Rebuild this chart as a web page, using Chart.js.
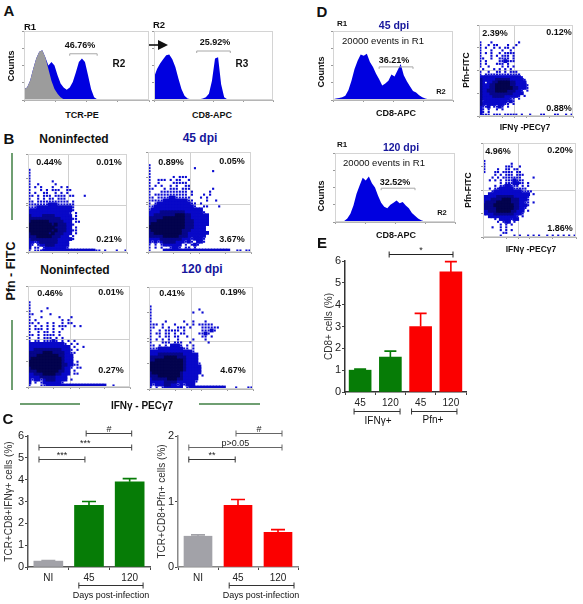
<!DOCTYPE html>
<html>
<head>
<meta charset="utf-8">
<title>Panels</title>
<script src="https://cdn.jsdelivr.net/npm/chart.js@4"></script>
<style>
  html, body { margin: 0; padding: 0; background: #fff; }
  #page { position: relative; width: 583px; height: 604px; overflow: hidden; font-family: "Liberation Sans", Arial, sans-serif; }
  canvas { position: absolute; }
  canvas.soft { filter: blur(0.5px); }
  .txt { position: absolute; white-space: nowrap; color: #111; transform: translate(-50%, -50%); line-height: 1; }
  .b { font-weight: bold; }
  .dpi { color: #16169c; }
  .rot { transform: translate(-50%, -50%) rotate(-90deg); }
  .vert, .hori { position: absolute; background: #6f9f72; }
</style>
</head>
<body>
<div id="page"></div>
<script>
//----------------------------------data

// panel A, histograms (percent of the box height)
const histTcrGrey = [16,18,28,45,60,70,72,62,45,28,16,9,4,1,0,0,0,0,0,0,0,0,0,0,0,0,0,0,0,0,0,0,0,0,0,0,0,0,0,0,0,0];
const histTcrBlue = [16,18,28,45,60,70,72,62,50,55,50,36,24,18,15,18,26,40,55,60,55,36,16,4,1,0.5,0.4,0.3,0.3,0.3,0.3,0.2,0.2,0.2,0.2,0.2,0.2,0.2,0.2,0.2,0.2,0.2];
const histCd8 = [33,45,53,59,65,66,59,48,31,16,6,2,1,1,1,1,2,4,9,28,60,62,23,4,1,0.6,0.5,0.5,0.4,0.4,0.4,0.4,0.3,0.3,0.3,0.3,0.3,0.3,0.3,0.3];

// panel D, histograms
const histD45 = [1,2,3,4,6,14,28,45,57,66,64,67,55,48,38,30,21,24,28,37,34,43,52,36,27,20,13,11,7,4,2,1,0.5,0.3,0.3,0.2,0.2,0.2,0.2,0.2];
const histD120 = [0.5,1,1,1.5,5,12,24,41,53,64,60,66,56,50,38,28,22,20,25,28,31,27,29,24,20,13,9,5,2.5,1,0.5,0.3,0.3,0.3,0.2,0.2,0.2,0.2,0.2,0.2];

// panel B and D, dot plots read off on a 34 x 34 grid, top row first
// . nothing, + single events, o blue, x dark blue, # darkest
const dotsB1 = ["","","","","","+","+","+","+","+.......+","+..+.....+","+.+.+...+..+.+","+...+.+.+++..++","+.+..++..+.+.+","++.+.+++.++++.++...+","+..+.+.++.+++","++.+++++++++++.+","+++++++ooo++++++","+++oooooooooooo+","ooooooooooooooo+","oooooooooooooo+.+","xooooxxxxoooooo.+","xxxxxxxxxxxoooo++","x######xxxxxooo.++","########x#xxxoo+","#########xxxxoo.+","########x#xxxoo++","x######x#xxxooo.+","xxx#####xxxooo.+","oxxxxxxxxxooooo+","oo+oxxxxxxoooo","o+.+ooxxxooooo","o.++.+ooooooo+","+.+++oooooooooooooooooo++.+...+..++"];
const dotsB2 = ["","","","","+","+..............+","+....................+","+","+.......+.+++","+..+++.+.++..+","+..+....+++++","+.+.+..+.+..++","++...+.+++.+++.......+","+...+++++++++.+.....+","+.+++++++++++.+...+.+","++.++++oo+++++...+.+","+++++oooooooo++....+..+","+.+ooooooooooo++.+","++ooooooooooooo+..++...+","+ooooooooooooooooo","ooooxxxxxxxxoooooo+","ooxxxxxxx###xxoooooo","xxxxx#######xxoooooo","xxx#########xxxooooo","x###########xxxooooo","############xxxoooo","x##########xxxooooo","xx#########xxooooooo","xxxxx#####xxxoooooo","ooooxxxxxxxooo+ooo+","o+o+oxxxxooo+o+.oo+","+.+.+oooooo.+.+o+","+.+.+..+oo+.++.+","+....oooooooooooooooooooooo..++.++.+"];
const dotsB3 = ["","","","","","+","+","+.....+","+...+","++.....+","+...+.....+...+","+.+........+.+","++.+..+.+..+.++","+.+.+.+.+.+++..+.+","+.+++.+.+..+","+..+.++.+.+","++.+.++++.+","+..+.+++.+.+","+.++.+++o+.+.+.+","oooooooooooo+.+.+","oooooooooooooo.+..+","ooxxxxxxxxxooo+.+","xxxxx###xxxxoo++","xxx#######xxooo","x##########xooo","###########xooo.+","###########xxoo++","x##########xoo+.++","xxx#######xxoo.+","ooxxx####xxooo.++","ooooxxxxxoooo","o+oo+oxxxoooo.+","o.+.+oooooo+","+...++oooooooooooooooooooo..+.....+"];
const dotsB4 = ["","","","","","","+","+...............+","+.............+..+","+","+","+....+.....+..+...+","+++.+...+...+.+.+++++","++..+.+..+++.+...++++++","+..+.+++++.+.....+++o+","+.++.++.+.++....++o+","+..+.++.++..+....++.+","+.+.+.+..+....+...+","+...+++.+++..+.....+","++.+.+.ooo+.+.+","+++oooooooo++.+","oooooooooooooo+","oooxxxxxxxxooooo","xxxxx####xxxoooo","xx#########xoooo","###########xoooo+","###########xooooo","###########xooooo","x#########xoooooo","xxx#######xooooo.+","oxxxxx###xxooooo","oooooxxxxoooooo+","o+oooxxoo+o+ooo","+.+.+oooooo.+oooooooooooo...+...++"];
const dotsD45 = ["","","","","","","+...+.........+","+..+.++...+..+","+.+..+.+.++.+","+...+...+..+","+.+.+..+.++++","+...+.+.+++.+","++..+..++++.+","+.+....++o+++","+.+...+++.+","+..+....+.+.+",".+...+.+.+.+","+..+..++.+.+++","+.+++++++++++++","ooooooooooooooo+","xoooooxxxxxooooo+","xo.ooxx####xxoooo","xoooxx#####xxoooo+","xoooxx######xxooo+","xooxxx####xxxoo+.+","xoooxxxxxxxxoooo","xooooxxxxooooo+.+","xoooooooooo++.+","x+oooooooo+o+","xo+ooo+oo++.+","o++o.++o+.+","o+.+..+.+","o+.+","o+++.+++.+++++.+..+...++...++..+.++"];
const dotsD120 = ["","","","","","","+","+.........+","+.......+++..+","+....+..++.++","+...++.++++.++","....+.+.+++.+++","...+.+.+++++++....+","..+.+.+.+++o+++","......+.+++oo++.+","....+.++oo+++.+.+","..+.++ooooo+++++","...+oooooooooo++++","..ooooooooooooooo.+","oooooxxxxxxooooo+","oooxxxx###xxxooo+","oxxxx#####xxxoo++.+","xxxx#######xxooo+","xxxxx######xxoo+","ooxxx#####xxooo.+","ooooxxxxxxxooo+","..oooooooooo+.+","....+.oooo+oo",".....+.+oo.+","......+.+.+","...+..+.+","......+.+.+",".......++","......+....+.+..+.+.+..+.+.+.+.+.+"];

// panel C
const joursLabels = ["NI", "45", "120"];
const ifnValues = [0.27, 2.82, 3.9];
const ifnErrors = [0.02, 0.18, 0.15];
const pfnValues = [0.47, 0.94, 0.53];
const pfnErrors = [0.02, 0.09, 0.04];

// panel E
const cd8Labels = ["45", "120", "45", "120"];
const cd8Values = [1, 1.6, 3, 5.5];
const cd8Errors = [0.05, 0.27, 0.6, 0.47];

const GREEN = '#067c06';
const RED = '#fb0000';
const GREY = '#a2a2a8';

//----------------------------------helpers

Chart.defaults.font.family = '"Liberation Sans", Arial, sans-serif';
Chart.defaults.animation = false;

const page = document.getElementById('page');

function addCanvas(left, top, width, height, cls) {
  const c = document.createElement('canvas');
  c.width = width;
  c.height = height;
  c.style.left = left + 'px';
  c.style.top = top + 'px';
  c.style.width = width + 'px';
  c.style.height = height + 'px';
  if (cls) c.className = cls;
  page.appendChild(c);
  return c;
}

function addText(text, x, y, size, cls) {
  const d = document.createElement('div');
  d.className = 'txt ' + (cls || '');
  d.textContent = text;
  d.style.left = x + 'px';
  d.style.top = y + 'px';
  d.style.fontSize = size + 'px';
  page.appendChild(d);
}

function addLine(cls, left, top, size) {
  const d = document.createElement('div');
  d.className = cls;
  d.style.left = left + 'px';
  d.style.top = top + 'px';
  if (cls === 'vert') { d.style.width = '1.5px'; d.style.height = size + 'px'; }
  else { d.style.height = '1.5px'; d.style.width = size + 'px'; }
  page.appendChild(d);
}

// thin light frame around the flow plots
const framePlugin = {
  id: 'frame',
  afterDraw(chart) {
    const a = chart.chartArea, ctx = chart.ctx;
    ctx.save();
    ctx.strokeStyle = '#d4d4d4';
    ctx.lineWidth = 1;
    ctx.strokeRect(a.left + 0.5, a.top + 0.5, a.width - 1, a.height - 1);
    ctx.restore();
  }
};

// small ticks of the flow plots, the quadrant line is one of them
function flowAxis(max, quadrant, size, position) {
  const isY = position === 'left';
  return {
    type: 'linear', min: 0, max: max, position: position,
    ticks: { display: false },
    afterBuildTicks: s => {
      const vals = [0, max * 0.25, max * 0.5, max * 0.75, max];
      if (quadrant !== null) vals.push(quadrant);
      s.ticks = vals.map(v => ({ value: v }));
    },
    afterFit: s => { if (isY) s.width = size; else s.height = size; },
    grid: {
      tickLength: 2,
      tickColor: '#9a9a9a',
      color: c => (c.tick && c.tick.value === quadrant) ? '#cfcfcf' : 'rgba(0,0,0,0)',
      lineWidth: 1
    },
    border: { color: '#b5b5b5' }
  };
}

// histogram: the canvas sits 3 px left of and below the box
function histChart(x, y, w, h, series, bracket) {
  const canvas = addCanvas(x - 3, y - 1, w + 4, h + 4);
  const n = series[0].values.length - 1;
  const bracketPlugin = {
    id: 'histBracket',
    afterDraw(chart) {
      if (!bracket) return;
      const ctx = chart.ctx, sx = chart.scales.x, sy = chart.scales.y;
      const x0 = sx.getPixelForValue(bracket[0]), x1 = sx.getPixelForValue(bracket[1]), yy = sy.getPixelForValue(bracket[2]);
      ctx.save();
      ctx.strokeStyle = '#a8a8a8';
      ctx.lineWidth = 1;
      ctx.beginPath();
      ctx.moveTo(x0, yy + 2); ctx.lineTo(x0, yy); ctx.lineTo(x1, yy); ctx.lineTo(x1, yy + 2);
      ctx.stroke();
      ctx.restore();
    }
  };
  new Chart(canvas, {
    type: 'line',
    data: {
      datasets: series.map(s => ({
        data: s.values.map((v, i) => ({ x: i, y: v })),
        backgroundColor: s.color,
        borderColor: s.color,
        borderWidth: 0,
        fill: 'origin',
        pointRadius: 0,
        tension: 0
      }))
    },
    options: {
      responsive: false,
      layout: { padding: { top: 1, right: 1 } },
      plugins: { legend: { display: false }, tooltip: { enabled: false } },
      scales: { x: flowAxis(n, null, 3, 'bottom'), y: flowAxis(100, null, 3, 'left') }
    },
    plugins: [framePlugin, bracketPlugin]
  });
}

const dotStyles = [
  { key: '+', color: '#0a0ad2', radius: 1.5 },
  { key: 'o', color: '#0808c8', radius: 2.7 },
  { key: 'x', color: '#06068a', radius: 2.7 },
  { key: '#', color: '#03034e', radius: 2.7 }
];

// dot plot from the grid, each cell becomes a point on the scales
function dotChart(x, y, w, h, grid, qCol, qRow) {
  const canvas = addCanvas(x - 3, y - 1, w + 4, h + 4, 'soft');
  new Chart(canvas, {
    type: 'scatter',
    data: {
      datasets: dotStyles.slice().reverse().map(st => {
        const pts = [];
        grid.forEach((row, r) => {
          row.split('').forEach((ch, c) => {
            if (ch === st.key) pts.push({ x: c + 0.5, y: 34 - r - 0.5 });
          });
        });
        return { data: pts, pointStyle: 'rect', pointRadius: st.radius, pointBorderWidth: 0, backgroundColor: st.color, clip: 0 };
      })
    },
    options: {
      responsive: false,
      layout: { padding: { top: 1, right: 1 } },
      plugins: { legend: { display: false }, tooltip: { enabled: false } },
      scales: { x: flowAxis(34, qCol, 3, 'bottom'), y: flowAxis(34, 34 - qRow, 3, 'left') }
    },
    plugins: [framePlugin]
  });
}

// bars with error bars, significance brackets and the group lines under the axis
function barChart(o) {
  const padBottom = 21;
  const canvas = addCanvas(o.plotX - o.axisW, o.plotY - o.padTop, o.axisW + o.plotW + 3, o.padTop + o.plotH + 16 + padBottom);
  const marks = {
    id: 'marks',
    afterDatasetsDraw(chart) {
      const ctx = chart.ctx, sx = chart.scales.x, sy = chart.scales.y;
      ctx.save();
      // error bars
      o.values.forEach((v, i) => {
        const px = sx.getPixelForValue(i), top = sy.getPixelForValue(v + o.errors[i]);
        ctx.strokeStyle = o.colors[i];
        ctx.lineWidth = 1.6;
        ctx.beginPath();
        ctx.moveTo(px, sy.getPixelForValue(v));
        ctx.lineTo(px, top);
        ctx.moveTo(px - o.capW, top);
        ctx.lineTo(px + o.capW, top);
        ctx.stroke();
      });
      // significance brackets
      o.brackets.forEach(b => {
        const x0 = sx.getPixelForValue(b[0]), x1 = sx.getPixelForValue(b[1]), yy = Math.round(sy.getPixelForValue(b[2])) + 0.5;
        ctx.strokeStyle = b[4];
        ctx.lineWidth = 1;
        ctx.beginPath();
        ctx.moveTo(x0, yy - 3); ctx.lineTo(x0, yy + 3);
        ctx.moveTo(x0, yy); ctx.lineTo(x1, yy);
        ctx.moveTo(x1, yy - 3); ctx.lineTo(x1, yy + 3);
        ctx.stroke();
        ctx.fillStyle = '#222';
        ctx.font = '9px "Liberation Sans"';
        ctx.textAlign = 'center';
        ctx.textBaseline = 'middle';
        ctx.fillText(b[3], (x0 + x1) / 2, yy - 4);
      });
      // group lines under the tick labels
      o.groups.forEach(g => {
        const x0 = sx.getPixelForValue(g[0]), x1 = sx.getPixelForValue(g[1]), yy = chart.chartArea.bottom + o.groupY + 0.5;
        ctx.strokeStyle = '#333';
        ctx.lineWidth = 1;
        ctx.beginPath();
        ctx.moveTo(x0, yy - 3); ctx.lineTo(x0, yy + 3);
        ctx.moveTo(x0, yy); ctx.lineTo(x1, yy);
        ctx.moveTo(x1, yy - 3); ctx.lineTo(x1, yy + 3);
        ctx.stroke();
      });
      ctx.restore();
    }
  };
  new Chart(canvas, {
    type: 'bar',
    data: {
      labels: o.labels,
      datasets: [{ data: o.values, backgroundColor: o.colors, barThickness: o.barW }]
    },
    options: {
      responsive: false,
      layout: { padding: { top: o.padTop, right: 3, bottom: padBottom } },
      plugins: { legend: { display: false }, tooltip: { enabled: false } },
      scales: {
        x: {
          grid: { display: true, drawOnChartArea: false, tickLength: 3, tickColor: '#444' },
          border: { color: o.axisColor, width: 1.5 },
          ticks: { font: { size: 10 }, color: '#222', padding: o.xTickPad, maxRotation: 0, autoSkip: false },
          afterFit: s => { s.height = 16; }
        },
        y: {
          min: 0, max: o.max,
          title: { display: true, text: o.yTitle, font: { size: 10 }, color: '#333', padding: { top: o.titlePad, bottom: 0 } },
          ticks: { stepSize: 1, font: { size: 11 }, color: '#222', padding: 1 },
          grid: { drawOnChartArea: false, tickLength: 3, tickColor: '#444' },
          border: { color: o.axisColor, width: 1.5 },
          afterFit: s => { s.width = o.axisW; }
        }
      }
    },
    plugins: [marks]
  });
}

//----------------------------------panel A

histChart(24, 31, 125, 69, [
  { values: histTcrGrey, color: '#9c9c9c' },
  { values: histTcrBlue, color: '#0000e0' }
], [15, 24, 67]);
histChart(154, 31, 119, 69, [{ values: histCd8, color: '#0000e0' }], [14, 25, 71]);

addText('A', 9, 10, 15, 'b');
addText('R1', 30, 27, 9.5, 'b');
addText('R2', 159, 25, 9.5, 'b');
addText('46.76%', 80, 45, 9, 'b');
addText('25.92%', 215, 42, 9, 'b');
addText('R2', 119, 64, 10, 'b');
addText('R3', 242, 64, 10, 'b');
addText('TCR-PE', 82, 115, 9, 'b');
addText('CD8-APC', 212, 115, 9, 'b');
addText('Counts', 11, 66, 9, 'b rot');

//----------------------------------panel B

dotChart(27, 151, 103, 102, dotsB1, 14, 18);
dotChart(147, 149, 107, 104, dotsB2, 14, 18);
dotChart(27, 283, 106, 105, dotsB3, 14, 18);
dotChart(148, 284, 108, 106, dotsB4, 14, 18);

addText('B', 9, 138, 15, 'b');
addText('Noninfected', 74, 139, 12, 'b');
addText('45 dpi', 200, 138, 12, 'b dpi');
addText('Noninfected', 75, 270, 12, 'b');
addText('120 dpi', 202, 269, 12, 'b dpi');
addText('0.44%', 49, 162, 9, 'b');
addText('0.01%', 109, 162, 9, 'b');
addText('0.21%', 109, 239, 9, 'b');
addText('0.89%', 171, 162, 9, 'b');
addText('0.05%', 232, 161, 9, 'b');
addText('3.67%', 232, 239, 9, 'b');
addText('0.46%', 50, 293, 9, 'b');
addText('0.01%', 111, 292, 9, 'b');
addText('0.27%', 111, 370, 9, 'b');
addText('0.41%', 172, 293, 9, 'b');
addText('0.19%', 233, 292, 9, 'b');
addText('4.67%', 233, 370, 9, 'b');
addText('Pfn - FITC', 11, 271, 12.5, 'b rot');
addText('IFNγ - PECγ7', 142, 406, 10, 'b');

addLine('vert', 11, 153, 67);
addLine('vert', 11, 320, 70);
addLine('hori', 20, 403, 60);
addLine('hori', 199, 403, 61);

//----------------------------------panel C

barChart({
  plotX: 28, plotY: 436, plotW: 122, plotH: 131, axisW: 28, padTop: 18, max: 6, titlePad: 3, xTickPad: 2,
  labels: joursLabels, values: ifnValues, errors: ifnErrors, colors: [GREY, GREEN, GREEN],
  barW: 29, capW: 7, axisColor: '#555', yTitle: 'TCR+CD8+IFNγ+ cells (%)', groupY: 18,
  brackets: [[0.93, 2.05, 6.14, '#', '#444'], [-0.23, 2.05, 5.5, '***', '#444'], [-0.23, 0.9, 4.95, '***', '#444']],
  groups: [[0.75, 2.33]]
});
barChart({
  plotX: 178, plotY: 436, plotW: 120, plotH: 131, axisW: 24, padTop: 18, max: 2, titlePad: 2, xTickPad: 2,
  labels: joursLabels, values: pfnValues, errors: pfnErrors, colors: [GREY, RED, RED],
  barW: 28, capW: 7, axisColor: '#888', yTitle: 'TCR+CD8+Pfn+ cells (%)', groupY: 18,
  brackets: [[0.95, 2.1, 2.05, '#', '#666'], [-0.23, 2.1, 1.83, 'p>0.05', '#666'], [-0.23, 0.93, 1.65, '**', '#333']],
  groups: [[0.78, 2.4]]
});

addText('C', 8, 418, 15, 'b');
addText('Days post-infection', 111, 595, 9);
addText('Days post-infection', 261, 595, 9);

//----------------------------------panel D

histChart(333, 31, 120, 69, [{ values: histD45, color: '#0000e0' }], [15, 26, 48]);
histChart(335, 153, 120, 69, [{ values: histD120, color: '#0000e0' }], [15, 26, 49]);
dotChart(478, 22, 98, 95, dotsD45, 13, 17);
dotChart(482, 140, 97, 98, dotsD120, 13, 17);

addText('D', 322, 11, 15, 'b');
addText('R1', 342, 24, 8, 'b');
addText('45 dpi', 394, 25, 10.5, 'b dpi');
addText('20000 events in R1', 383, 41, 9.5);
addText('36.21%', 394, 60, 9, 'b');
addText('R2', 441, 92, 7.5, 'b');
addText('CD8-APC', 396, 113, 9, 'b');
addText('Counts', 321, 72, 9, 'b rot');
addText('2.39%', 495, 33, 9, 'b');
addText('0.12%', 559, 32, 9, 'b');
addText('0.88%', 559, 108, 9, 'b');
addText('Pfn-FITC', 466, 70, 8.5, 'b rot');
addText('IFNγ -PECγ7', 525, 127, 8.5, 'b');

addText('R1', 342, 145, 8, 'b');
addText('120 dpi', 401, 147, 10.5, 'b dpi');
addText('20000 events in R1', 384, 163, 9.5);
addText('32.52%', 395, 182, 9, 'b');
addText('R2', 442, 213, 7.5, 'b');
addText('CD8-APC', 396, 235, 9, 'b');
addText('Counts', 321, 196, 9, 'b rot');
addText('4.96%', 498, 151, 9, 'b');
addText('0.20%', 560, 150, 9, 'b');
addText('1.86%', 560, 228, 9, 'b');
addText('Pfn-FITC', 468, 190, 8.5, 'b rot');
addText('IFNγ -PECγ7', 531, 249, 8.5, 'b');

//----------------------------------panel E

barChart({
  plotX: 345, plotY: 261, plotW: 121, plotH: 131, axisW: 23, padTop: 23, max: 6, titlePad: 1, xTickPad: 2,
  labels: cd8Labels, values: cd8Values, errors: cd8Errors, colors: [GREEN, GREEN, RED, RED],
  barW: 22, capW: 6, axisColor: '#333', yTitle: 'CD8+ cells (%)', groupY: 19,
  brackets: [[0.96, 3.07, 6.32, '*', '#222']],
  groups: [[-0.2, 1.32], [1.7, 3.2]]
});

addText('E', 322, 242, 15, 'b');
addText('IFNγ+', 378, 421, 10);
addText('Pfn+', 433, 420, 10);

//----------------------------------arrow of panel A

page.insertAdjacentHTML('beforeend',
  '<svg style="position:absolute;left:149px;top:40px" width="20" height="10"><path d="M0 5H12" stroke="#111" stroke-width="1.6"/><path d="M9 0L19 5L9 10Z" fill="#111"/></svg>');
</script>
</body>
</html>
